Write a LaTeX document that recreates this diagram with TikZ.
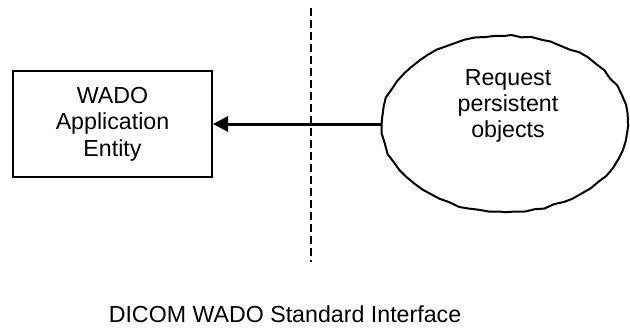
\documentclass[tikz,border=0pt]{standalone}
\usepackage{fontspec}
\setmainfont{Liberation Sans}
\usetikzlibrary{shapes.geometric,arrows.meta,decorations.pathmorphing}
\newcommand{\diafont}{\fontsize{11.6}{13.2}\selectfont}
\tikzset{
    entity/.style={
        draw,
        line width=1pt,
        minimum width=99.5pt,
        minimum height=53pt,
        inner sep=0pt,
        align=center,
        font=\diafont
    },
    request/.style={
        ellipse,
        draw,
        line width=1pt,
        minimum width=123pt,
        minimum height=88pt,
        inner sep=0pt,
        decorate,
        decoration={random steps,segment length=5pt,amplitude=0.5pt}
    },
    caption/.style={align=center,font=\diafont},
    flow/.style={line width=1.5pt,-{Triangle[length=7.5pt,width=7.5pt]}},
    divider/.style={line width=0.8pt,dash pattern=on 4pt off 2pt}
}

\begin{document}
\begin{tikzpicture}[x=0.5pt,y=-0.5pt]
        \useasboundingbox (0,0) rectangle (630,327);
        % WADO side
        \node[entity] (wado) at (112.5,124) {WADO\\Application\\Entity};
        % requester
        \node[request] (req) at (505,124) {};
        \node[caption] (reqtext) at (508,106) {Request\\persistent\\objects};
        \draw[flow] (req.west) -- (wado.east);
        % interface boundary
        \coordinate (ifacetop) at (311,8);
        \coordinate (ifacebot) at (311,262);
        \draw[divider] (ifacetop) -- (ifacebot);
        \node[caption] (iface) at (285,314) {DICOM WADO Standard Interface};
    \end{tikzpicture}
\end{document}
